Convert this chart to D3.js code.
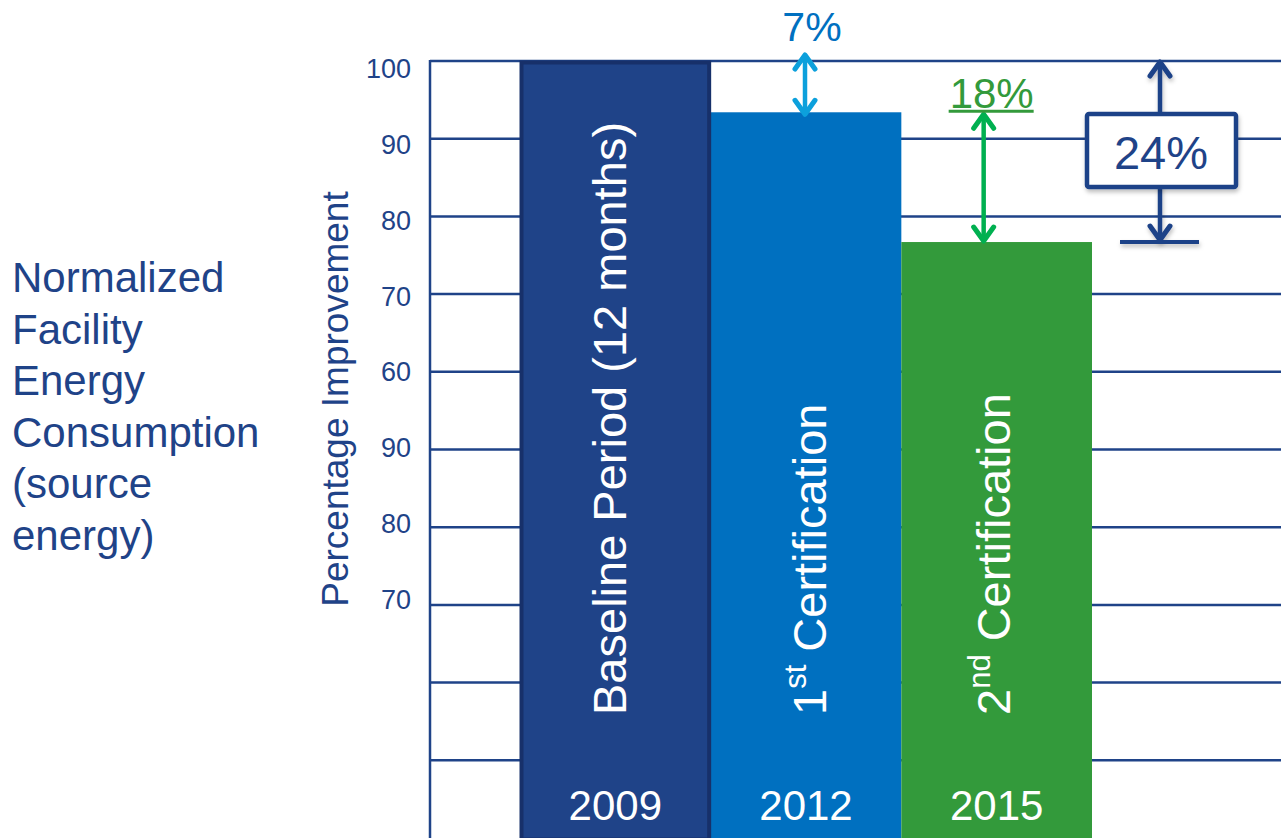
<!doctype html>
<html lang="en">
<head>
    <meta charset="UTF-8">
    <title>Normalized Facility Energy Consumption</title>
    <script type="text/javascript" src="https://cdn.jsdelivr.net/npm/d3@7/dist/d3.min.js"></script>
    <style type="text/css">
        body { margin: 0; background: #fff; }
        svg { display: block; font-family: "Liberation Sans", Arial, sans-serif; }
    </style>
</head>
<body>
<script type="text/javascript">
    var width = 1281;
    var height = 838;

    // data
    var categories = ["Baseline", "1st", "2nd"];
    var values = [100, 93.4, 76.7];
    var years = ["2009", "2012", "2015"];
    var gridValues = [100, 90, 80, 70, 60, 50, 40, 30, 20, 10];
    var tickLabels = ["100", "90", "80", "70", "60", "90", "80", "70", "", ""];
    var leftLines = ["Normalized", "Facility", "Energy", "Consumption", "(source", "energy)"];

    var navy = "#1f4388";
    var barColors = ["#1f4388", "#0070c0", "#339a3b"];

    var x_scale = d3.scaleBand().domain(categories).range([520, 1092]).padding(0);
    var y_scale = d3.scaleLinear().domain([0, 100]).range([838, 61]);
    // tick labels sit a little off the gridlines in the original
    var label_scale = d3.scaleLinear().domain([100, 30]).range([68, 599]);

    var svg = d3.select("body").append("svg").attr("width", width).attr("height", height);

    var defs = svg.append("defs");
    var f = defs.append("filter").attr("id", "shadow")
        .attr("filterUnits", "userSpaceOnUse")
        .attr("x", 0).attr("y", 0).attr("width", width).attr("height", height);
    f.append("feDropShadow").attr("dx", 1).attr("dy", 3).attr("stdDeviation", 2)
        .attr("flood-color", "#000").attr("flood-opacity", 0.25);

    // gridlines
    svg.append("g").selectAll("line")
        .data(gridValues)
        .enter()
        .append("line")
        .attr("x1", 430).attr("x2", width)
        .attr("y1", function (d) { return y_scale(d); })
        .attr("y2", function (d) { return y_scale(d); })
        .attr("stroke", navy).attr("stroke-width", 2.5);

    // y axis line
    svg.append("line")
        .attr("x1", 430).attr("x2", 430)
        .attr("y1", y_scale(100) - 1).attr("y2", height)
        .attr("stroke", navy).attr("stroke-width", 2.5);

    // tick labels
    svg.append("g").selectAll("text")
        .data(gridValues.filter(function (d, i) { return tickLabels[i] !== ""; }))
        .enter()
        .append("text")
        .text(function (d, i) { return tickLabels[i]; })
        .attr("x", 411)
        .attr("y", function (d) { return label_scale(d) + 10; })
        .attr("text-anchor", "end")
        .attr("font-size", "27px")
        .attr("fill", navy);

    // axis title
    svg.append("text")
        .text("Percentage Improvement")
        .attr("transform", "translate(348,399) rotate(-90)")
        .attr("text-anchor", "middle")
        .attr("font-size", "37px")
        .attr("fill", navy);

    // left label
    svg.append("text")
        .attr("font-size", "42px")
        .attr("fill", navy)
        .selectAll("tspan")
        .data(leftLines)
        .enter()
        .append("tspan")
        .attr("x", 12)
        .attr("y", function (d, i) { return 292 + i * 51.5; })
        .text(function (d) { return d; });

    // bars
    svg.append("g").selectAll("rect")
        .data(values)
        .enter()
        .append("rect")
        .attr("x", function (d, i) { return x_scale(categories[i]); })
        .attr("width", x_scale.bandwidth())
        .attr("y", function (d) { return y_scale(d); })
        .attr("height", function (d) { return height - y_scale(d); })
        .attr("fill", function (d, i) { return barColors[i]; });

    // baseline bar border
    svg.append("rect")
        .attr("x", x_scale(categories[0]) + 1.5)
        .attr("y", y_scale(values[0]) + 1.5)
        .attr("width", x_scale.bandwidth() - 3)
        .attr("height", height - y_scale(values[0]))
        .attr("fill", "none")
        .attr("stroke", "#17306a").attr("stroke-width", 4);

    // rotated bar labels
    var labelShift = [11, 20, 13];
    function barLabel(i, parts) {
        var cx = x_scale(categories[i]) + x_scale.bandwidth() / 2 + labelShift[i];
        var t = svg.append("text")
            .attr("transform", "translate(" + cx + ",715) rotate(-90)")
            .attr("font-size", "47px")
            .attr("fill", "#fff");
        parts.forEach(function (p) {
            var s = t.append("tspan").text(p.t);
            if (p.sup) {
                s.attr("font-size", "31px").attr("dy", -20);
            } else if (p.after) {
                s.attr("dy", 20);
            }
        });
    }
    barLabel(0, [{t: "Baseline  Period  (12 months)"}]);
    barLabel(1, [{t: "1"}, {t: "st", sup: true}, {t: " Certification", after: true}]);
    barLabel(2, [{t: "2"}, {t: "nd", sup: true}, {t: " Certification", after: true}]);

    // years
    svg.append("g").selectAll("text")
        .data(years)
        .enter()
        .append("text")
        .text(function (d) { return d; })
        .attr("x", function (d, i) { return x_scale(categories[i]) + x_scale.bandwidth() / 2; })
        .attr("y", 820)
        .attr("text-anchor", "middle")
        .attr("font-size", "42px")
        .attr("fill", "#fff");

    // double arrow helper
    function chevron(g, x, y, dir, color) {
        g.append("path")
            .attr("d", "M" + (x - 10) + "," + (y + dir * 14) + " L" + x + "," + y + " L" + (x + 10) + "," + (y + dir * 14))
            .attr("fill", "none").attr("stroke", color).attr("stroke-width", 5)
            .attr("stroke-linecap", "round").attr("stroke-linejoin", "round");
    }
    function dblArrow(x, y1, y2, color) {
        var g = svg.append("g");
        g.append("line").attr("x1", x).attr("x2", x).attr("y1", y1 + 2).attr("y2", y2 - 2)
            .attr("stroke", color).attr("stroke-width", 4.5);
        chevron(g, x, y1, 1, color);
        chevron(g, x, y2, -1, color);
        return g;
    }

    // 7%
    var x7 = x_scale(categories[1]) + x_scale.bandwidth() / 2 - 1;
    dblArrow(x7, y_scale(100) - 6, y_scale(values[1]) + 2, "#0ca0dc");
    svg.append("text").text("7%")
        .attr("x", x7 + 7).attr("y", 41)
        .attr("text-anchor", "middle").attr("font-size", "41px").attr("fill", "#0070c0");

    // 18%
    var x18 = x_scale(categories[2]) + x_scale.bandwidth() / 2 - 13;
    dblArrow(x18, y_scale(values[1]) + 2, y_scale(values[2]) - 1, "#00b050");
    svg.append("text").text("18%")
        .attr("x", x18 + 8).attr("y", 108)
        .attr("text-anchor", "middle").attr("font-size", "42px").attr("fill", "#339a3b");
    svg.append("line")
        .attr("x1", x18 - 35).attr("x2", x18 + 50)
        .attr("y1", y_scale(values[1]) - 1).attr("y2", y_scale(values[1]) - 1)
        .attr("stroke", "#339a3b").attr("stroke-width", 3);

    // 24%
    var x24 = x_scale.range()[1] + 68;
    var g24 = dblArrow(x24, y_scale(100) + 1, y_scale(values[2]) - 2, navy);
    g24.attr("filter", "url(#shadow)");
    svg.append("line")
        .attr("x1", x24 - 40).attr("x2", x24 + 39)
        .attr("y1", y_scale(values[2])).attr("y2", y_scale(values[2]))
        .attr("stroke", navy).attr("stroke-width", 4)
        .attr("filter", "url(#shadow)");
    svg.append("rect")
        .attr("x", x24 - 73).attr("y", 114)
        .attr("width", 149).attr("height", 73)
        .attr("rx", 2)
        .attr("fill", "#fff").attr("stroke", navy).attr("stroke-width", 4.5)
        .attr("filter", "url(#shadow)");
    svg.append("text").text("24%")
        .attr("x", x24 + 1).attr("y", 169)
        .attr("text-anchor", "middle").attr("font-size", "47px").attr("fill", navy);
</script>
</body>
</html>
